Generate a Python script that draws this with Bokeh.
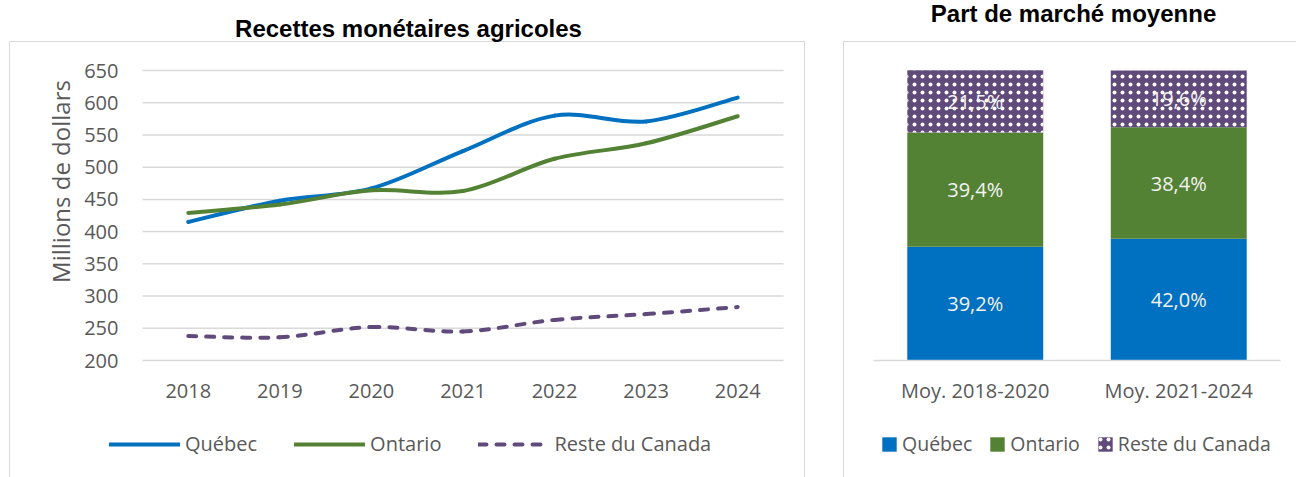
import numpy as np
from math import pi
from bokeh.plotting import figure
from bokeh.models import (ColumnDataSource, Range1d, FixedTicker, Legend, LegendItem, Label)
from bokeh.layouts import row
from bokeh.embed import file_html
from bokeh.resources import INLINE
from bokeh.core.properties import value

# ---------------- data ----------------
years = [2018, 2019, 2020, 2021, 2022, 2023, 2024]
quebec = [415, 448, 467, 525, 580, 571, 608]
ontario = [429, 442, 464, 463, 513, 537, 579]
reste = [238, 236, 252, 245, 263, 272, 283]
y_ticks = [200, 250, 300, 350, 400, 450, 500, 550, 600, 650]

periods = ["Moy. 2018-2020", "Moy. 2021-2024"]
part_quebec = [39.2, 42.0]
part_ontario = [39.4, 38.4]
part_reste = [21.5, 19.6]

# ---------------- style / layout ----------------
BLUE = "#0070C0"
GREEN = "#548235"
PURPLE = "#604A7B"
GRID = "#D9D9D9"
TXT = "#595959"
FONT = "Open Sans"
TFONT = "Liberation Sans"
H = 477
WL, WR = 838, 458
FT, FB = 70, 360          # plot-area top / bottom (px)
LX0, LX1 = 142, 783       # left plot-area x extent (px)
RX0, RX1 = 873 - WL, 1280 - WL   # right plot-area x extent (px, inside right figure)


def box_css(parts):
    g = "linear-gradient(#D9D9D9, #D9D9D9)"
    return ", ".join(f"{g} {x}px {y}px / {w}px {h}px no-repeat" for x, y, w, h in parts) + ", white"


def bezier_source(xs, ys):
    x = list(xs)
    y = list(ys)
    n = len(x)
    d = dict(x0=[], y0=[], x1=[], y1=[], cx0=[], cy0=[], cx1=[], cy1=[])
    for i in range(n - 1):
        xp, yp = (x[i - 1], y[i - 1]) if i > 0 else (x[i], y[i])
        xn, yn = (x[i + 2], y[i + 2]) if i + 2 < n else (x[i + 1], y[i + 1])
        d["x0"].append(x[i]); d["y0"].append(y[i])
        d["x1"].append(x[i + 1]); d["y1"].append(y[i + 1])
        d["cx0"].append(x[i] + (x[i + 1] - xp) / 6); d["cy0"].append(y[i] + (y[i + 1] - yp) / 6)
        d["cx1"].append(x[i + 1] - (xn - x[i]) / 6); d["cy1"].append(y[i + 1] - (yn - y[i]) / 6)
    return ColumnDataSource(d)


def style_axis(ax):
    ax.axis_line_color = None
    ax.major_tick_line_color = None
    ax.minor_tick_line_color = None
    ax.major_tick_out = 0
    ax.major_tick_in = 0
    ax.minor_tick_out = 0
    ax.minor_tick_in = 0
    ax.major_label_text_font = FONT
    ax.major_label_text_font_size = "20px"
    ax.major_label_text_color = TXT


def new_fig(w, xr, yr, css):
    p = figure(width=w, height=H, x_range=xr, y_range=yr, output_backend="svg",
               toolbar_location=None, min_border_left=0, min_border_right=0,
               min_border_top=0, min_border_bottom=0, styles={"background": css})
    p.border_fill_color = None
    p.background_fill_color = None
    p.outline_line_color = None
    p.grid.visible = False
    return p


# ---------------- left chart ----------------
xa, xb = years[0] - 0.5, years[-1] + 0.5
ppx = (LX1 - LX0) / (xb - xa)
ya, yb = y_ticks[0], y_ticks[-1]
ppy = (FB - FT) / (yb - ya)
pL = new_fig(WL,
             Range1d(xa - LX0 / ppx, xb + (WL - LX1) / ppx),
             Range1d(ya - (H - FB) / ppy, yb + FT / ppy),
             box_css([(9, 41, 796, 1), (9, 41, 1, 436), (804, 41, 1, 436)]))
pL.yaxis.ticker = FixedTicker(ticks=y_ticks)
pL.xaxis.ticker = FixedTicker(ticks=years)
style_axis(pL.xaxis[0])
style_axis(pL.yaxis[0])
pL.yaxis.fixed_location = xa
pL.xaxis.fixed_location = ya
pL.yaxis.bounds = (ya, yb)
pL.xaxis.bounds = (xa, xb)
pL.yaxis.major_label_standoff = 24
pL.xaxis.major_label_standoff = 23

# horizontal gridlines over the plot area
pL.segment(x0=xa, x1=xb, y0=y_ticks, y1=y_ticks, line_color=GRID, line_width=1.5)

seriesL = [("Québec", quebec, BLUE, "solid"),
           ("Ontario", ontario, GREEN, "solid"),
           ("Reste du Canada", reste, PURPLE, "8 10")]
itemsL = []
for name, vals, col, dash in seriesL:
    src = bezier_source(years, vals)
    pL.bezier(x0="x0", y0="y0", x1="x1", y1="y1", cx0="cx0", cy0="cy0", cx1="cx1", cy1="cy1",
              source=src, line_color=col, line_width=4, line_cap="round", line_dash=dash)
    key = pL.line(x=years, y=vals, line_color=col, line_width=4, line_cap="round",
                  line_dash=dash, visible=False)
    itemsL.append(LegendItem(label=name, renderers=[key]))

legL = Legend(items=itemsL, orientation="horizontal", location=(109, 20),
              glyph_width=71, glyph_height=20, label_standoff=5, spacing=37, padding=0, margin=0,
              label_text_font=FONT, label_text_font_size="20px", label_text_color=TXT,
              border_line_color=None, background_fill_alpha=0)
pL.add_layout(legL)

pL.add_layout(Label(x=408, y=H - 28, x_units="screen", y_units="screen",
                    text="Recettes monétaires agricoles", text_font=TFONT,
                    text_font_style="bold", text_font_size="24px", text_color="black",
                    text_align="center", text_baseline="alphabetic"))
pL.add_layout(Label(x=60, y=H - 181, x_units="screen", y_units="screen", angle=pi / 2,
                    text="Millions de dollars", text_font=FONT, text_font_size="24px",
                    text_color=TXT, text_align="center", text_baseline="alphabetic"))

# ---------------- right chart ----------------
xpos = list(range(len(periods)))
upx = (RX1 - RX0) / len(periods)
pR = new_fig(WR,
             Range1d(-0.5 - RX0 / upx, len(periods) - 0.5 + (WR - RX1) / upx),
             Range1d(-(H - FB) / ((FB - FT) / 100), 100 + FT / ((FB - FT) / 100)),
             box_css([(5, 41, 460, 1), (5, 41, 1, 436)]))
pR.yaxis.visible = False
style_axis(pR.xaxis[0])
pR.xaxis.ticker = FixedTicker(ticks=xpos)
pR.xaxis.major_label_overrides = {i: s for i, s in zip(xpos, periods)}
pR.xaxis.fixed_location = 0
pR.xaxis.bounds = (-0.5, len(periods) - 0.5)
pR.xaxis.axis_line_color = GRID
pR.xaxis.axis_line_width = 1.5
pR.xaxis.major_label_standoff = 16


def fmt(v):
    return f"{v:.1f}".replace(".", ",") + "%"


q = np.array(part_quebec)
o = np.array(part_ontario)
r = np.array(part_reste)
srcR = ColumnDataSource(dict(
    x=xpos,
    q0=np.zeros_like(q), q1=q, o0=q, o1=q + o, r0=q + o, r1=q + o + r,
    qm=q / 2, om=q + o / 2, rm=q + o + r / 2,
    ql=[fmt(v) for v in part_quebec], ol=[fmt(v) for v in part_ontario],
    rl=[fmt(v) for v in part_reste]))

BW = 0.668
bq = pR.vbar(x="x", bottom="q0", top="q1", width=BW, source=srcR, fill_color=BLUE, line_color=None)
bo = pR.vbar(x="x", bottom="o0", top="o1", width=BW, source=srcR, fill_color=GREEN, line_color=None)
br = pR.vbar(x="x", bottom="r0", top="r1", width=BW, source=srcR, fill_color=PURPLE, line_color=None,
             hatch_pattern=".", hatch_color="white", hatch_scale=8, hatch_weight=1.0)

for ycol, tcol in (("qm", "ql"), ("om", "ol"), ("rm", "rl")):
    pR.text(x="x", y=ycol, text=tcol, source=srcR, text_align="center", text_baseline="middle",
            text_color="#F2F2F2", text_font=value(FONT), text_font_size="20px")

legR = Legend(items=[LegendItem(label="Québec", renderers=[bq]),
                     LegendItem(label="Ontario", renderers=[bo]),
                     LegendItem(label="Reste du Canada", renderers=[br])],
              orientation="horizontal", location=(880 - WL, 20),
              glyph_width=18, glyph_height=18, label_standoff=4, spacing=16, padding=0, margin=0,
              label_text_font=FONT, label_text_font_size="19.5px", label_text_color=TXT,
              border_line_color=None, background_fill_alpha=0)
pR.add_layout(legR)

pR.add_layout(Label(x=1073 - WL, y=H - 13, x_units="screen", y_units="screen",
                    text="Part de marché moyenne", text_font=TFONT, text_font_style="bold",
                    text_font_size="24px", text_color="black", text_align="center",
                    text_baseline="alphabetic"))

layout = row(pL, pR)
open("out.html", "w").write(file_html(layout, INLINE))
